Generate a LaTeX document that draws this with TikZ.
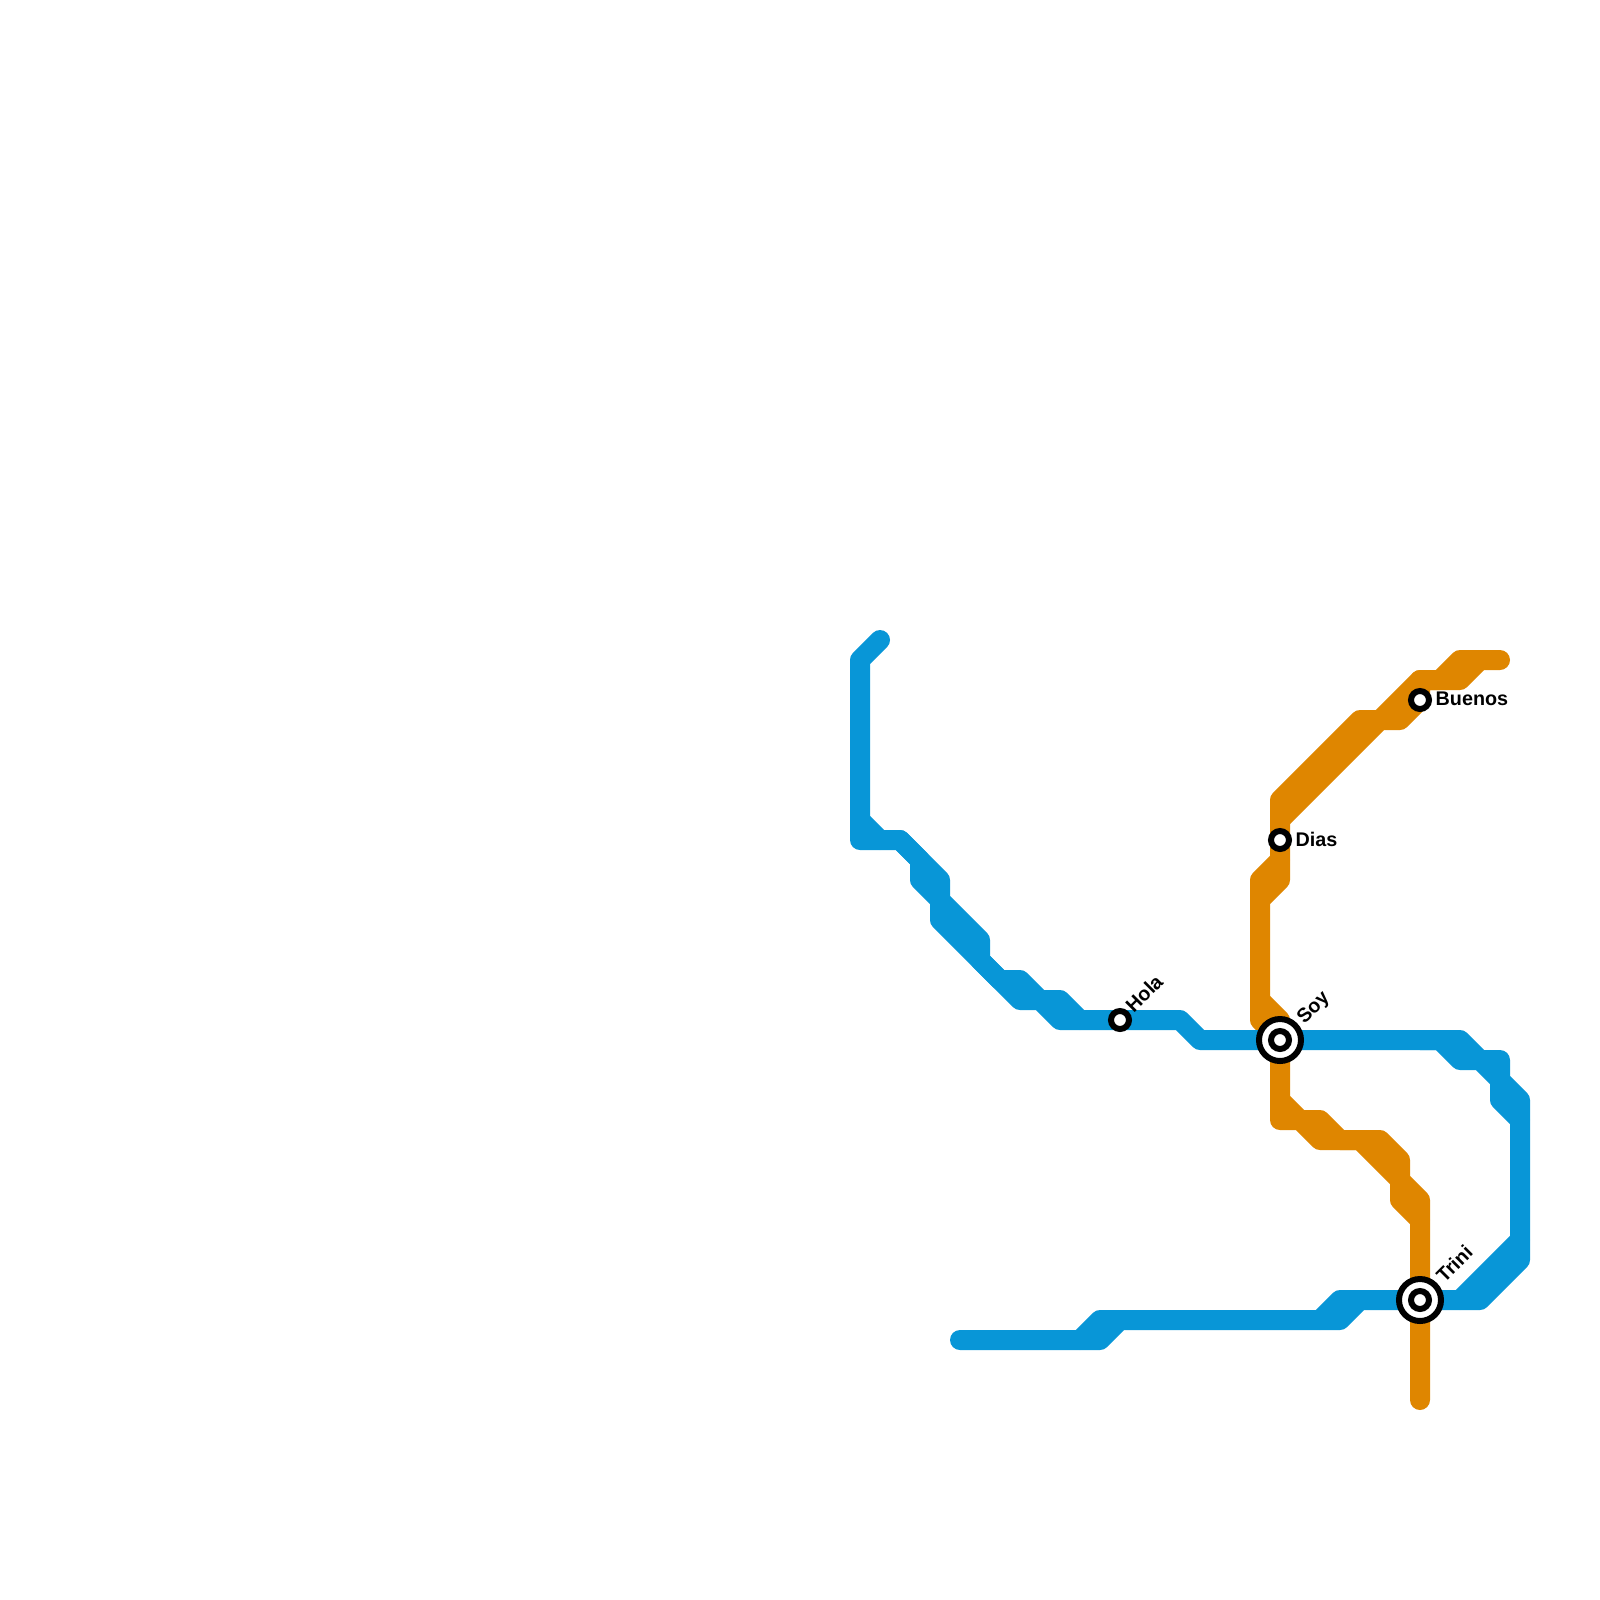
\documentclass[tikz,border=0pt]{standalone}
\usepackage{fontspec}
\usepackage{xcolor}
\usepackage{tikz}
\usetikzlibrary{calc}
\setmainfont{Liberation Sans}
\definecolor{lineblue}{HTML}{0896D7}
\definecolor{lineorange}{HTML}{DF8600}

\begin{document}
\begin{tikzpicture}[x=0.2cm, y=-0.2cm,
    track/.style={line width=0.2cm, line cap=round, line join=round},
    stopmark/.style={circle, draw=black, fill=white, line width=0.06cm, minimum size=0.18cm, inner sep=0pt},
    hubmark/.style={circle, draw=black, fill=white, line width=0.06cm, minimum size=0.42cm, inner sep=0pt},
    stoptext/.style={font=\bfseries\fontsize{5.62pt}{6pt}\selectfont, inner sep=0pt, anchor=base west}]
        \useasboundingbox (0,0) rectangle (80,80);
        
        % Stops
        \coordinate (hola) at (56,51);
        \coordinate (soy) at (64,52);
        \coordinate (dias) at (64,42);
        \coordinate (buenos) at (71,35);
        \coordinate (trini) at (71,65);
        
        % Orange line, north of Soy
        \draw[track, lineorange] (75,33) -- (73,33) -- (72,34) -- (71,34) -- (69,36) -- (68,36) -- (64,40) -- (dias) -- (64,44) -- (63,45) -- (63,51) -- (soy);
        \draw[track, lineorange] (74,33) -- (73,34) -- (71,34) -- (buenos) -- (70,36) -- (69,36) -- (64,41);
        \draw[track, lineorange] (64,43) -- (63,44) -- (63,45);
        \draw[track, lineorange] (63,50) -- (64,51) -- (soy);
        
        % Orange line, south of Soy
        \draw[track, lineorange] (soy) -- (64,55) -- (65,56) -- (66,56) -- (67,57) -- (69,57) -- (70,58) -- (70,59) -- (71,60) -- (trini) -- (71,70);
        \draw[track, lineorange] (64,55) -- (64,56) -- (65,56) -- (66,57) -- (68,57) -- (70,59) -- (70,60) -- (71,61);
        
        % Blue line, west side
        \draw[track, lineblue] (44,32) -- (43,33) -- (43,42) -- (45,42) -- (47,44) -- (47,45) -- (49,47) -- (49,48) -- (50,49) -- (51,49) -- (52,50) -- (53,50) -- (54,51) -- (hola) -- (59,51) -- (60,52) -- (soy);
        \draw[track, lineblue] (43,41) -- (44,42);
        \draw[track, lineblue] (45,42) -- (46,43) -- (46,44) -- (47,45) -- (47,46) -- (51,50) -- (52,50) -- (53,51) -- (54,51);
        
        % Blue line, east side
        \draw[track, lineblue] (soy) -- (73,52) -- (74,53) -- (75,53) -- (75,54) -- (76,55) -- (76,63) -- (74,65) -- (trini);
        \draw[track, lineblue] (71,52) -- (72,52) -- (73,53) -- (74,53) -- (75,54) -- (75,55) -- (76,56);
        \draw[track, lineblue] (76,62) -- (73,65);
        
        % Blue line, south side
        \draw[track, lineblue] (48,67) -- (55,67) -- (56,66) -- (67,66) -- (68,65) -- (trini);
        \draw[track, lineblue] (54,67) -- (55,66) -- (56,66);
        \draw[track, lineblue] (66,66) -- (67,65) -- (68,65);
        
        % Stop markers
        \node[stopmark] (holaMark) at (hola) {};
        \node[stopmark] (diasMark) at (dias) {};
        \node[stopmark] (buenosMark) at (buenos) {};
        \node[hubmark] (soyRing) at (soy) {};
        \node[stopmark] (soyMark) at (soy) {};
        \node[hubmark] (triniRing) at (trini) {};
        \node[stopmark] (triniMark) at (trini) {};
        
        % Stop names
        \node[stoptext, rotate=45] (holaText) at ($(hola)+(0.67,-0.3)$) {Hola};
        \node[stoptext, rotate=45] (soyText) at ($(soy)+(1.2,-0.75)$) {Soy};
        \node[stoptext, rotate=45] (triniText) at ($(trini)+(1.2,-0.8)$) {Trini};
        \node[stoptext] (diasText) at ($(dias)+(0.75,0.3)$) {Dias};
        \node[stoptext] (buenosText) at ($(buenos)+(0.75,0.25)$) {Buenos};
    \end{tikzpicture}
\end{document}
